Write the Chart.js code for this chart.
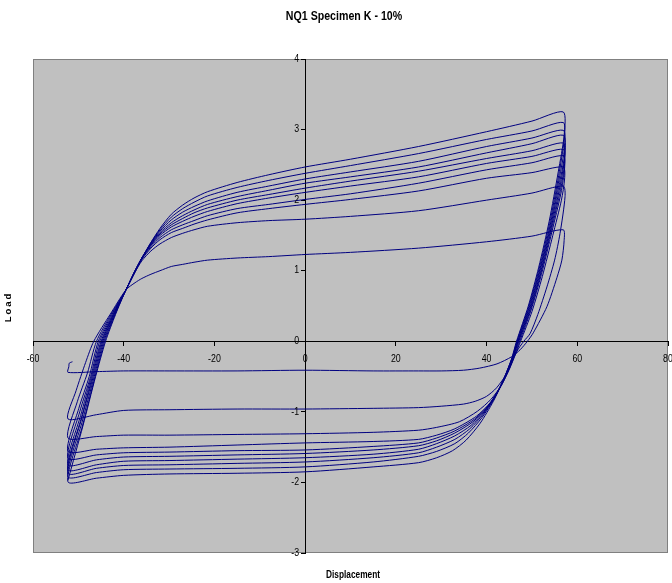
<!DOCTYPE html>
<html>
<head>
<meta charset="utf-8">
<script src="https://cdn.jsdelivr.net/npm/chart.js@4.4.1/dist/chart.umd.min.js"></script>
<style>
  html, body { margin: 0; padding: 0; background: #fff; }
  #wrap { width: 672px; height: 583px; }
</style>
</head>
<body>
<div id="wrap"><canvas id="loadChart" width="672" height="583"></canvas></div>
<script>
// cycles are listed largest first (the specimen softens cycle by cycle)
const startPoint = [-52.3, -1.97];

// left rising branch of each cycle, from the previous corner up to the common crossing
const risePaths = [
  [[-49.0, -1.20], [-46.2, -0.50], [-44.0, 0], [-41.8, 0.38]],
  [[-49.1, -1.20], [-46.3, -0.50], [-44.2, 0], [-41.9, 0.38]],
  [[-49.2, -1.15], [-46.5, -0.50], [-44.4, 0], [-42.0, 0.38]],
  [[-49.3, -1.10], [-46.7, -0.50], [-44.6, 0], [-42.1, 0.38]],
  [[-49.4, -1.10], [-46.9, -0.50], [-44.8, 0], [-42.2, 0.38]],
  [[-49.5, -1.05], [-47.1, -0.50], [-45.0, 0], [-42.3, 0.38]],
  [[-49.7, -1.00], [-47.3, -0.50], [-45.3, 0], [-42.4, 0.38]],
  [[-49.9, -0.95], [-47.6, -0.50], [-45.6, 0], [-42.6, 0.38]],
  [[-50.2, -0.85], [-48.0, -0.45], [-46.0, 0], [-42.8, 0.38]],
  [[-50.5, -0.70], [-48.4, -0.30], [-46.6, 0], [-43.0, 0.38]]
];

// upper plateau (tension side)
const upperX = [-39.5, -37.5, -36, -34, -32, -29.5, -27, -24.5, -21.5, -15, -8, 0, 10, 25, 40, 50];
const upperLoads = [
  [0.73, 0.98, 1.17, 1.40, 1.60, 1.80, 1.93, 2.03, 2.12, 2.25, 2.36, 2.47, 2.58, 2.76, 2.97, 3.12],
  [0.73, 0.99, 1.18, 1.40, 1.58, 1.76, 1.88, 1.97, 2.06, 2.18, 2.28, 2.38, 2.49, 2.66, 2.86, 2.98],
  [0.73, 0.99, 1.18, 1.39, 1.56, 1.72, 1.83, 1.91, 1.99, 2.11, 2.20, 2.30, 2.40, 2.55, 2.76, 2.88],
  [0.73, 1.00, 1.18, 1.38, 1.54, 1.68, 1.78, 1.86, 1.94, 2.05, 2.14, 2.24, 2.33, 2.47, 2.67, 2.80],
  [0.73, 1.00, 1.18, 1.37, 1.52, 1.65, 1.74, 1.82, 1.89, 2.00, 2.08, 2.17, 2.27, 2.41, 2.59, 2.70],
  [0.73, 1.00, 1.18, 1.36, 1.50, 1.62, 1.70, 1.77, 1.84, 1.95, 2.03, 2.11, 2.20, 2.33, 2.52, 2.62],
  [0.73, 1.00, 1.17, 1.34, 1.47, 1.58, 1.65, 1.71, 1.78, 1.88, 1.94, 2.01, 2.09, 2.24, 2.43, 2.53],
  [0.73, 0.99, 1.16, 1.32, 1.44, 1.54, 1.60, 1.66, 1.72, 1.82, 1.88, 1.94, 2.01, 2.13, 2.31, 2.39],
  [0.73, 0.98, 1.14, 1.28, 1.38, 1.47, 1.53, 1.58, 1.63, 1.68, 1.71, 1.73, 1.77, 1.85, 2.00, 2.10],
  [0.73, 0.83, 0.89, 0.95, 1.00, 1.06, 1.09, 1.12, 1.15, 1.18, 1.20, 1.23, 1.26, 1.32, 1.41, 1.49]
];

const peakDisp = 56.9;
const peakLoads = [3.25, 3.10, 2.99, 2.92, 2.81, 2.72, 2.63, 2.47, 2.20, 1.58];

// right unloading branch after each peak, down to the compression plateau
const unloadPaths = [
  [[57.1, 2.92], [55.8, 2.40], [53.8, 1.70], [51.5, 1.05], [49.2, 0.50], [46.6, 0], [45.5, -0.25], [43.7, -0.55], [41.5, -0.85], [38.6, -1.16], [35.5, -1.40], [32.5, -1.55], [29, -1.65]],
  [[57.1, 2.85], [55.9, 2.35], [53.9, 1.67], [51.6, 1.03], [49.3, 0.49], [46.7, 0], [45.6, -0.24], [43.9, -0.52], [41.8, -0.80], [39.0, -1.08], [36.0, -1.30], [33.0, -1.45], [29, -1.56]],
  [[57.2, 2.75], [56.0, 2.30], [54.0, 1.64], [51.7, 1.01], [49.4, 0.48], [46.8, 0], [45.7, -0.23], [44.0, -0.50], [42.0, -0.77], [39.3, -1.03], [36.3, -1.24], [33.0, -1.39], [29, -1.50]],
  [[57.3, 2.68], [56.1, 2.25], [54.1, 1.62], [51.8, 1.00], [49.5, 0.47], [46.9, 0], [45.8, -0.22], [44.2, -0.48], [42.2, -0.74], [39.6, -0.99], [36.6, -1.19], [33.0, -1.34], [29, -1.45]],
  [[57.2, 2.60], [56.2, 2.20], [54.2, 1.60], [51.9, 0.98], [49.6, 0.46], [47.0, 0], [45.9, -0.21], [44.4, -0.46], [42.5, -0.71], [40.0, -0.95], [37.0, -1.14], [33.0, -1.30], [29, -1.41]],
  [[57.2, 2.52], [56.3, 2.15], [54.3, 1.58], [52.0, 0.97], [49.7, 0.45], [47.1, 0], [46.0, -0.20], [44.6, -0.44], [42.8, -0.68], [40.4, -0.91], [37.4, -1.10], [33.0, -1.27], [29, -1.37]],
  [[57.2, 2.45], [56.4, 2.10], [54.4, 1.55], [52.1, 0.95], [49.8, 0.44], [47.3, 0], [46.2, -0.19], [44.8, -0.42], [43.0, -0.65], [40.8, -0.87], [37.8, -1.06], [33.0, -1.24], [29, -1.33]],
  [[57.2, 2.30], [56.5, 2.00], [54.6, 1.50], [52.3, 0.92], [50.0, 0.42], [47.5, 0], [46.4, -0.18], [45.0, -0.40], [43.3, -0.62], [41.0, -0.82], [38.0, -0.99], [34.0, -1.14], [29, -1.22]],
  [[57.3, 2.05], [56.2, 1.53], [55.0, 1.15], [53.3, 0.77], [51.3, 0.38], [49.6, 0.11], [48.2, 0], [46.7, -0.14], [44.5, -0.45], [42.2, -0.66], [40.0, -0.78], [37.5, -0.85], [34.9, -0.89], [30, -0.92]],
  [[57.1, 1.43], [56.6, 1.15], [55.5, 0.90], [53.3, 0.49], [50.3, 0.12], [49.0, 0], [47.4, -0.12], [45.5, -0.22], [42.3, -0.32], [38.5, -0.38], [34.9, -0.41], [30, -0.42]]
];

// lower plateau (compression side), run right to left into the left corner
const lowerX = [25, 15, 0, -15, -30, -40, -46, -52.3];
const lowerLoads = [
  [-1.72, -1.78, -1.85, -1.87, -1.88, -1.90, -1.94, -1.99],
  [-1.63, -1.71, -1.78, -1.80, -1.81, -1.82, -1.86, -1.92],
  [-1.58, -1.65, -1.71, -1.73, -1.75, -1.76, -1.80, -1.87],
  [-1.53, -1.60, -1.65, -1.67, -1.69, -1.70, -1.75, -1.82],
  [-1.48, -1.54, -1.59, -1.61, -1.63, -1.64, -1.68, -1.75],
  [-1.44, -1.49, -1.54, -1.55, -1.57, -1.58, -1.61, -1.66],
  [-1.39, -1.42, -1.44, -1.47, -1.50, -1.51, -1.53, -1.56],
  [-1.26, -1.29, -1.31, -1.32, -1.33, -1.33, -1.35, -1.37],
  [-0.94, -0.95, -0.96, -0.96, -0.97, -0.98, -1.04, -1.10],
  [-0.42, -0.42, -0.41, -0.42, -0.42, -0.42, -0.43, -0.44]
];

// last few readings, start of a reload that was cut off
const endHook = [[-52.1, -0.36], [-52.0, -0.31], [-51.3, -0.29]];

const xTicks = [-60, -40, -20, 0, 20, 40, 60, 80];
const yTicks = [-3, -2, -1, 0, 1, 2, 3, 4];

const pts = [{ x: startPoint[0], y: startPoint[1] }];
risePaths.forEach((rise, k) => {
  rise.forEach(([x, y]) => pts.push({ x, y }));
  upperX.forEach((x, i) => pts.push({ x, y: upperLoads[k][i] }));
  pts.push({ x: peakDisp, y: peakLoads[k] });
  unloadPaths[k].forEach(([x, y]) => pts.push({ x, y }));
  lowerX.forEach((x, i) => pts.push({ x, y: lowerLoads[k][i] }));
});
endHook.forEach(([x, y]) => pts.push({ x, y }));

const FONT = "'Liberation Sans', Arial, sans-serif";

// narrow-looking text, like the squeezed Excel export
function squeezedText(ctx, text, x, y, sx) {
  ctx.save();
  ctx.translate(x, y);
  ctx.scale(sx, 1);
  ctx.fillText(text, 0, 0);
  ctx.restore();
}

const plotFrame = {
  id: "plotFrame",
  beforeDraw(chart) {
    const { ctx, chartArea: a } = chart;
    ctx.save();
    ctx.fillStyle = "#ffffff";
    ctx.fillRect(0, 0, chart.width, chart.height);
    ctx.fillStyle = "#c0c0c0";
    ctx.fillRect(a.left, a.top, a.right - a.left, a.bottom - a.top);
    ctx.strokeStyle = "#808080";
    ctx.lineWidth = 1;
    ctx.strokeRect(a.left + 0.5, a.top + 0.5, a.right - a.left - 1, a.bottom - a.top - 1);
    ctx.restore();
  },
  afterDraw(chart) {
    const { ctx } = chart;
    const xs = chart.scales.x, ys = chart.scales.y;
    const axisX = xs.getPixelForValue(0);
    const axisY = ys.getPixelForValue(0);
    ctx.save();
    ctx.fillStyle = "#000";
    ctx.font = "10px " + FONT;

    // tick labels hang off the axes that cross at the origin
    ctx.textAlign = "right";
    ctx.textBaseline = "middle";
    ys.ticks.forEach((t) => {
      squeezedText(ctx, String(t.value), axisX - 6, ys.getPixelForValue(t.value), 0.88);
    });
    ctx.textAlign = "center";
    xs.ticks.forEach((t) => {
      squeezedText(ctx, String(t.value), xs.getPixelForValue(t.value), axisY + 18, 0.88);
    });

    ctx.font = "bold 12.5px " + FONT;
    squeezedText(ctx, "NQ1 Specimen K - 10%", 344, 17, 0.85);
    ctx.font = "bold 10px " + FONT;
    squeezedText(ctx, "Displacement", 353, 575, 0.83);
    ctx.translate(8, 308);
    ctx.rotate(-Math.PI / 2);
    ctx.font = "bold 9.5px " + FONT;
    ctx.letterSpacing = "2px";
    ctx.fillText("Load", 1, 0);
    ctx.restore();
  }
};

new Chart(document.getElementById("loadChart"), {
  type: "scatter",
  data: {
    datasets: [{
      label: "Load",
      data: pts,
      showLine: true,
      borderColor: "#000080",
      borderWidth: 1,
      pointRadius: 0,
      tension: 0.25,
      fill: false
    }]
  },
  options: {
    responsive: false,
    animation: false,
    devicePixelRatio: 1,
    layout: { autoPadding: false, padding: { left: 33, top: 59, right: 4, bottom: 30 } },
    plugins: { legend: { display: false }, tooltip: { enabled: false } },
    scales: {
      x: {
        type: "linear",
        min: -60,
        max: 80,
        position: { y: 0 },
        afterBuildTicks: (s) => { s.ticks = xTicks.map((v) => ({ value: v })); },
        grid: { drawOnChartArea: false, drawTicks: true, tickLength: 4, color: "#000" },
        border: { color: "#000", width: 1 },
        ticks: { display: false },
        z: 1
      },
      y: {
        type: "linear",
        min: -3,
        max: 4,
        position: { x: 0 },
        afterBuildTicks: (s) => { s.ticks = yTicks.map((v) => ({ value: v })); },
        grid: { drawOnChartArea: false, drawTicks: true, tickLength: 4, color: "#000" },
        border: { color: "#000", width: 1 },
        ticks: { display: false },
        z: 1
      }
    }
  },
  plugins: [plotFrame]
});
</script>
</body>
</html>
